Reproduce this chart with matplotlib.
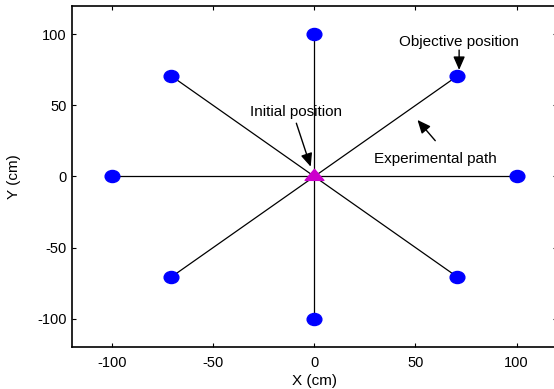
import numpy as np
import matplotlib.pyplot as plt
from matplotlib.path import Path
from matplotlib.transforms import Affine2D

plt.rcParams['font.family'] = ['Liberation Sans', 'DejaVu Sans']
plt.rcParams['axes.unicode_minus'] = False

# objective positions (cm), radius 100 around the start
target_x = [100, 70.7, 0, -70.7, -100, -70.7, 0, 70.7]
target_y = [0, 70.7, 100, 70.7, 0, -70.7, -100, -70.7]
start_x = [0]
start_y = [0]
ticks = [-100, -50, 0, 50, 100]

fig = plt.figure(figsize=(5.54, 3.89), dpi=100)
ax = fig.add_axes([0.1294, 0.108, 0.876, 0.8766])

# experimental paths from the initial position to each objective
for tx, ty in zip(target_x, target_y):
    ax.plot([start_x[0], tx], [start_y[0], ty], color='black', linewidth=0.9)

circ = Path.unit_circle()
ellipse = Path(Affine2D().scale(1.22, 1.0).transform(circ.vertices), circ.codes)
tri = Path([(-0.85, -0.35), (0.85, -0.35), (0, 0.65), (-0.85, -0.35)],
           [Path.MOVETO, Path.LINETO, Path.LINETO, Path.CLOSEPOLY])
ax.plot(target_x, target_y, linestyle='none', marker=ellipse, markersize=10.6,
        color='#0000ff', zorder=3)
ax.plot(start_x, start_y, linestyle='none', marker=tri, markersize=13.5,
        color='#cc00cc', zorder=4)

arrow = dict(arrowstyle='-|>,head_length=0.8,head_width=0.35', color='black',
             lw=1, shrinkA=0, shrinkB=0)
ax.text(71.6, 95, 'Objective position', ha='center', va='center', fontsize=11)
ax.annotate('', xy=(71.6, 75), xytext=(71.6, 89), arrowprops=arrow)
ax.text(-9.1, 45.6, 'Initial position', ha='center', va='center', fontsize=11)
ax.annotate('', xy=(-1.8, 6.9), xytext=(-8.9, 37.5), arrowprops=arrow)
ax.text(59.7, 12, 'Experimental path', ha='center', va='center', fontsize=11)
ax.annotate('', xy=(51, 39.8), xytext=(59.8, 25.2), arrowprops=arrow)

ax.set_xlim(-120, 120)
ax.set_ylim(-120, 120)
ax.set_xticks(ticks)
ax.set_yticks(ticks)
ax.tick_params(direction='in', length=3, top=True, right=True, labelsize=10.5)
ax.tick_params(axis='x', pad=6.5)
ax.set_xlabel('X (cm)', fontsize=11, labelpad=3)
ax.set_ylabel('Y (cm)', fontsize=11, labelpad=12)
for s in ax.spines.values():
    s.set_linewidth(1.2)

fig.savefig('out.png', dpi=100)
